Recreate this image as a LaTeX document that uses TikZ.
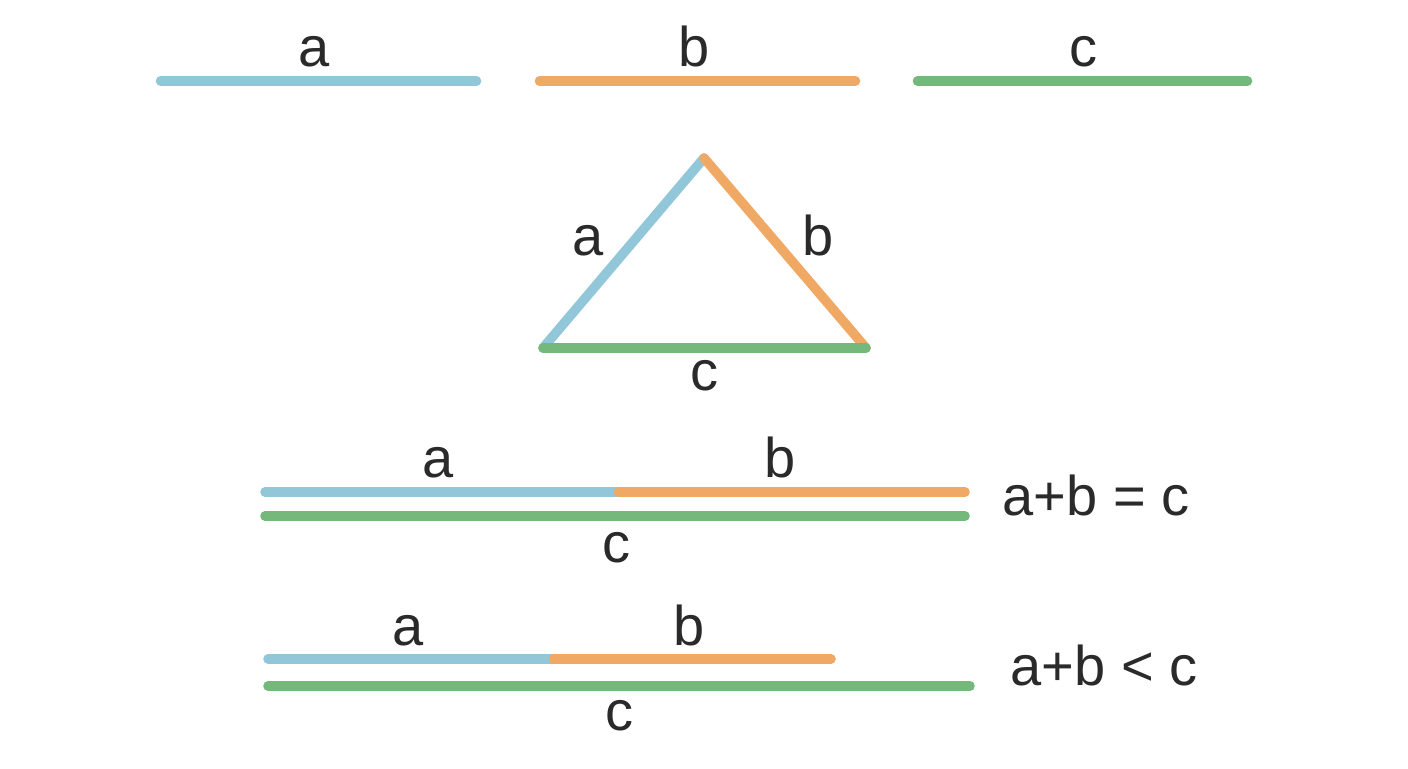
\documentclass[tikz,border=0pt]{standalone}
\usepackage{fontspec}
\setmainfont{Liberation Sans}
\definecolor{segblue}{HTML}{92C7DA}
\definecolor{segorange}{HTML}{F0A964}
\definecolor{seggreen}{HTML}{74B87C}
\definecolor{ink}{HTML}{2A2A2A}
\begin{document}
\begin{tikzpicture}[x=0.75pt,y=-0.75pt,
  seg/.style={line width=7.2pt,line cap=round},
  lbl/.style={anchor=base,inner sep=0pt,text=ink,font=\fontsize{42}{42}\selectfont}]
\useasboundingbox (0,0) rectangle (1408,768);
% top row
\coordinate (a1) at (160.5,81); \coordinate (a2) at (476.5,81);
\coordinate (b1) at (539.5,81); \coordinate (b2) at (855.5,81);
\coordinate (c1) at (917.5,81); \coordinate (c2) at (1247.5,81);
\draw[seg,segblue] (a1) -- (a2);
\draw[seg,segorange] (b1) -- (b2);
\draw[seg,seggreen] (c1) -- (c2);
\node[lbl] (la) at (314,66) {a};
\node[lbl] (lb) at (694,66) {b};
\node[lbl] (lc) at (1083,66) {c};
% triangle
\coordinate (tA) at (704,158);
\coordinate (tL) at (543,348);
\coordinate (tR) at (866,348);
\draw[seg,segblue] (tL) -- (tA);
\draw[seg,segorange] (tA) -- (tR);
\draw[seg,seggreen] (tL) -- (tR);
\node[lbl] (ta) at (588,255) {a};
\node[lbl] (tb) at (818,255) {b};
\node[lbl] (tc) at (704,390) {c};
% equality row
\coordinate (e1) at (265,492); \coordinate (em) at (618.5,492); \coordinate (e2) at (965,492);
\coordinate (g1) at (265,516); \coordinate (g2) at (965,516);
\draw[seg,segblue] (e1) -- (em);
\draw[seg,segorange] (em) -- (e2);
\draw[seg,seggreen] (g1) -- (g2);
\node[lbl] (ea) at (438,477) {a};
\node[lbl] (eb) at (780,477) {b};
\node[lbl] (ec) at (616,562) {c};
\node[lbl] (eq) at (1096,515) {a+b = c};
% inequality row
\coordinate (i1) at (268,659); \coordinate (im) at (553.5,659); \coordinate (i2) at (831,659);
\coordinate (h1) at (268,686); \coordinate (h2) at (970,686);
\draw[seg,segblue] (i1) -- (im);
\draw[seg,segorange] (im) -- (i2);
\draw[seg,seggreen] (h1) -- (h2);
\node[lbl] (ia) at (408,645) {a};
\node[lbl] (ib) at (689,645) {b};
\node[lbl] (ic) at (619,730) {c};
\node[lbl] (iq) at (1104,685) {a+b < c};
\end{tikzpicture}
\end{document}
